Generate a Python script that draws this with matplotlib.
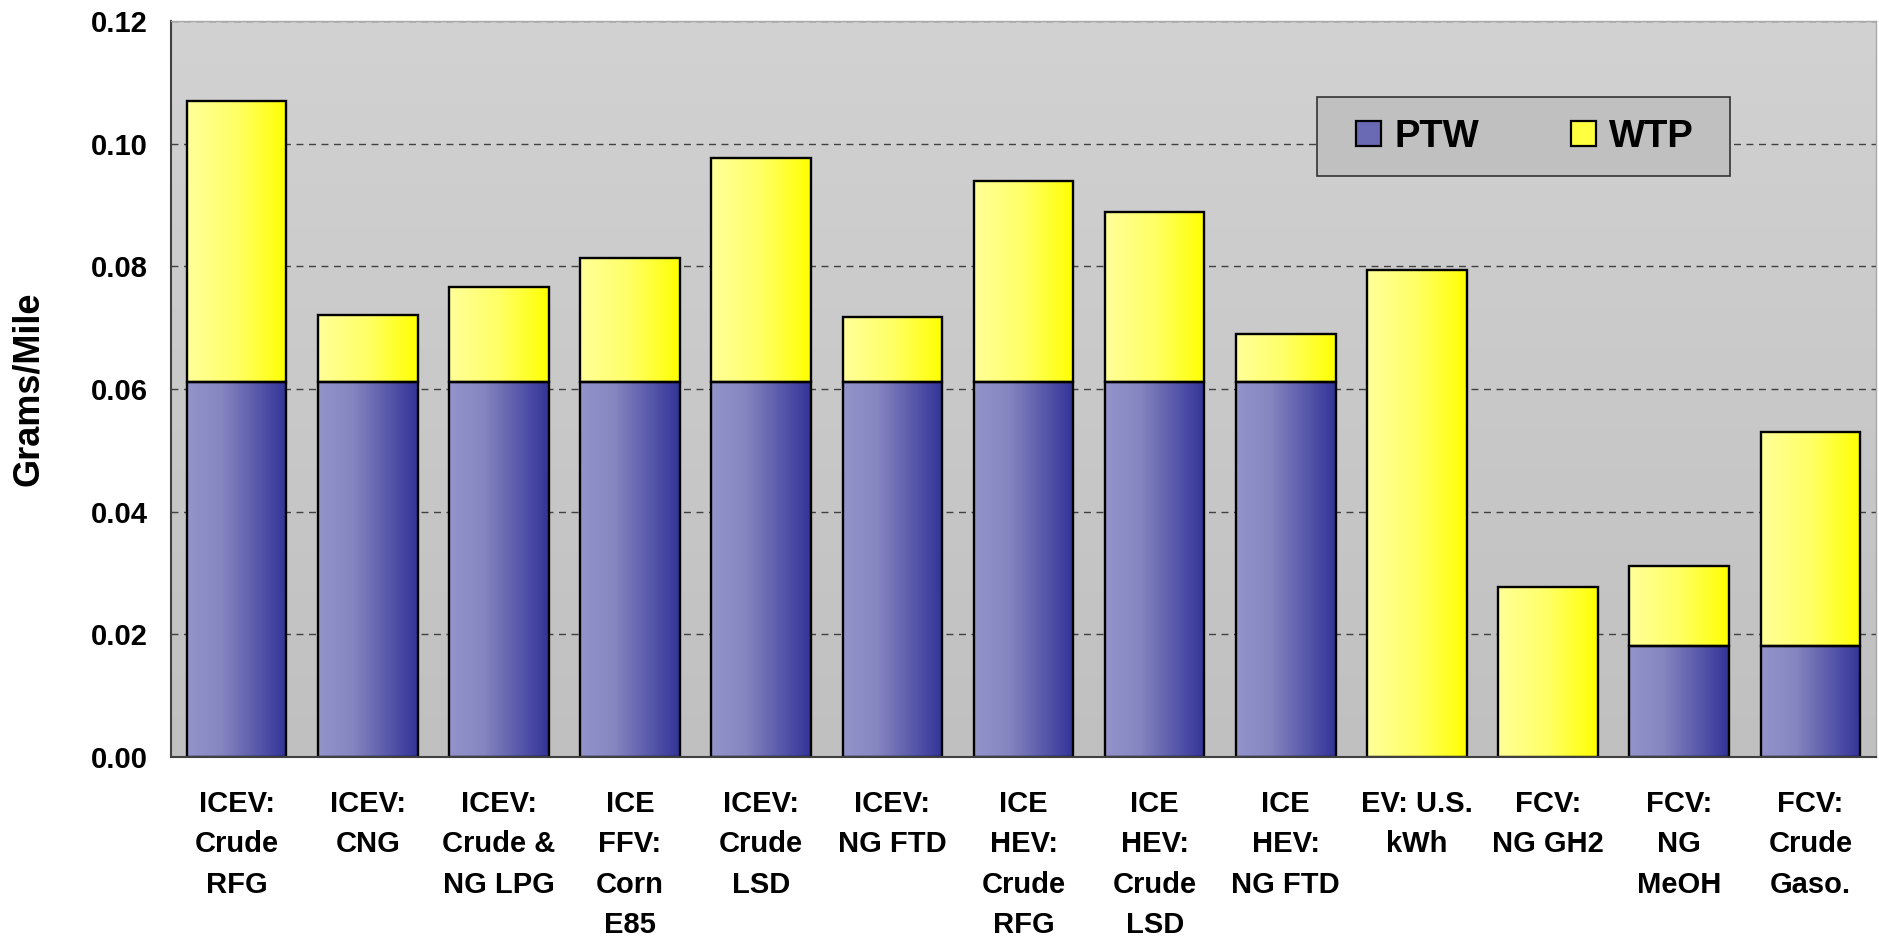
"""Stacked PTW / WTP emissions per vehicle pathway, gradient-filled bars."""

import matplotlib

matplotlib.use("Agg")
import matplotlib.pyplot as plt
import numpy as np
from matplotlib.colors import LinearSegmentedColormap
from matplotlib.patches import Patch, Rectangle

pathways = [
    "ICEV:\nCrude\nRFG", "ICEV:\nCNG", "ICEV:\nCrude &\nNG LPG", "ICE\nFFV:\nCorn\nE85",
    "ICEV:\nCrude\nLSD", "ICEV:\nNG FTD", "ICE\nHEV:\nCrude\nRFG", "ICE\nHEV:\nCrude\nLSD",
    "ICE\nHEV:\nNG FTD", "EV: U.S.\nkWh", "FCV:\nNG GH2", "FCV:\nNG\nMeOH", "FCV:\nCrude\nGaso.",
]
ptw = [0.0612, 0.0612, 0.0612, 0.0612, 0.0612, 0.0612, 0.0612, 0.0612, 0.0612,
       0.0, 0.0, 0.0181, 0.0181]
wtp = [0.0457, 0.0108, 0.0154, 0.0202, 0.0365, 0.0106, 0.0327, 0.0276, 0.0077,
       0.0794, 0.0277, 0.0131, 0.0349]
yticks = [0.00, 0.02, 0.04, 0.06, 0.08, 0.10, 0.12]

FONT = ["Liberation Sans", "DejaVu Sans"]
plt.rcParams["font.family"] = FONT
plt.rcParams["font.weight"] = "bold"

ptw_cmap = LinearSegmentedColormap.from_list(
    "ptw", [(0.0, "#9494cc"), (0.35, "#8585c0"), (1.0, "#333399")])
wtp_cmap = LinearSegmentedColormap.from_list(
    "wtp", [(0.0, "#ffff99"), (0.5, "#ffff66"), (1.0, "#ffff00")])


def fill_gradient(ax, bars, cmap):
    """Paint a left-to-right gradient inside every bar, clipped to the bar."""
    grad = np.linspace(0, 1, 256).reshape(1, -1)
    for patch in bars.patches:
        if patch.get_height() <= 0:
            patch.set_visible(False)
            continue
        x0, y0 = patch.get_x(), patch.get_y()
        im = ax.imshow(grad, cmap=cmap, aspect="auto", interpolation="bilinear",
                       extent=[x0, x0 + patch.get_width(), y0, y0 + patch.get_height()],
                       zorder=1.5)
        im.set_clip_path(patch)


fig = plt.figure(figsize=(18.79, 9.36), dpi=100)
ax = fig.add_axes([171 / 1879, 1 - 757 / 936, 1705 / 1879, 736 / 936])

# grey plot area, a bit lighter at the top
bg = np.linspace(0, 1, 256).reshape(-1, 1)
bg_cmap = LinearSegmentedColormap.from_list("bg", ["#c0c0c0", "#d2d2d2"])
ax.imshow(bg, cmap=bg_cmap, aspect="auto", extent=[0, 1, 0, 1], origin="lower",
          transform=ax.transAxes, zorder=0)

x = np.arange(len(pathways))
b1 = ax.bar(x, ptw, width=0.76, facecolor="none", edgecolor="black", linewidth=1.7, zorder=2)
b2 = ax.bar(x, wtp, bottom=ptw, width=0.76, facecolor="none", edgecolor="black",
            linewidth=1.7, zorder=2)
fill_gradient(ax, b1, ptw_cmap)
fill_gradient(ax, b2, wtp_cmap)

ax.set_xlim(-0.5, len(pathways) - 0.5)
ax.set_ylim(0, 0.12)
ax.set_yticks(yticks)
ax.set_yticklabels([f"{v:.2f}" for v in yticks], fontsize=21, fontweight="bold")
ax.set_xticks(x)
ax.set_xticklabels(pathways, fontsize=21, fontweight="bold", linespacing=1.55, va="top")
ax.tick_params(axis="both", length=0)
ax.tick_params(axis="y", pad=17)
ax.tick_params(axis="x", pad=24)

ax.yaxis.grid(True, color="#404040", linestyle=(0, (5, 4)), linewidth=1.0, zorder=0.5)
ax.set_axisbelow(True)
for gl in ax.get_ygridlines():
    gl.set_zorder(0.5)

for side in ("left", "bottom"):
    ax.spines[side].set_color("#404040")
    ax.spines[side].set_linewidth(1.5)
for side in ("top", "right"):
    ax.spines[side].set_color("#a8a8a8")
    ax.spines[side].set_linewidth(1.0)

fig.text(29 / 1879, 1 - 389 / 936, "Grams/Mile", rotation=90, fontsize=26,
         fontweight="bold", ha="center", va="center")

# legend box
fig.patches.append(Rectangle((1317 / 1879, 1 - 176 / 936), 413 / 1879, 79 / 936,
                             transform=fig.transFigure, facecolor="#c0c0c0",
                             edgecolor="#333333", linewidth=1.2, zorder=3))
handles = [Patch(facecolor="#6a6ab4", edgecolor="black", linewidth=1.6),
           Patch(facecolor="#ffff40", edgecolor="black", linewidth=1.6)]
leg = fig.legend(handles, ["PTW", "WTP"], loc="center",
                 bbox_to_anchor=(1525 / 1879, 1 - 137 / 936), ncol=2, frameon=False,
                 prop={"family": FONT, "weight": "bold", "size": 27.5},
                 handlelength=0.65, handleheight=0.65, handletextpad=0.35,
                 columnspacing=2.4)
leg.set_zorder(4)

fig.savefig("out.png", dpi=100)
